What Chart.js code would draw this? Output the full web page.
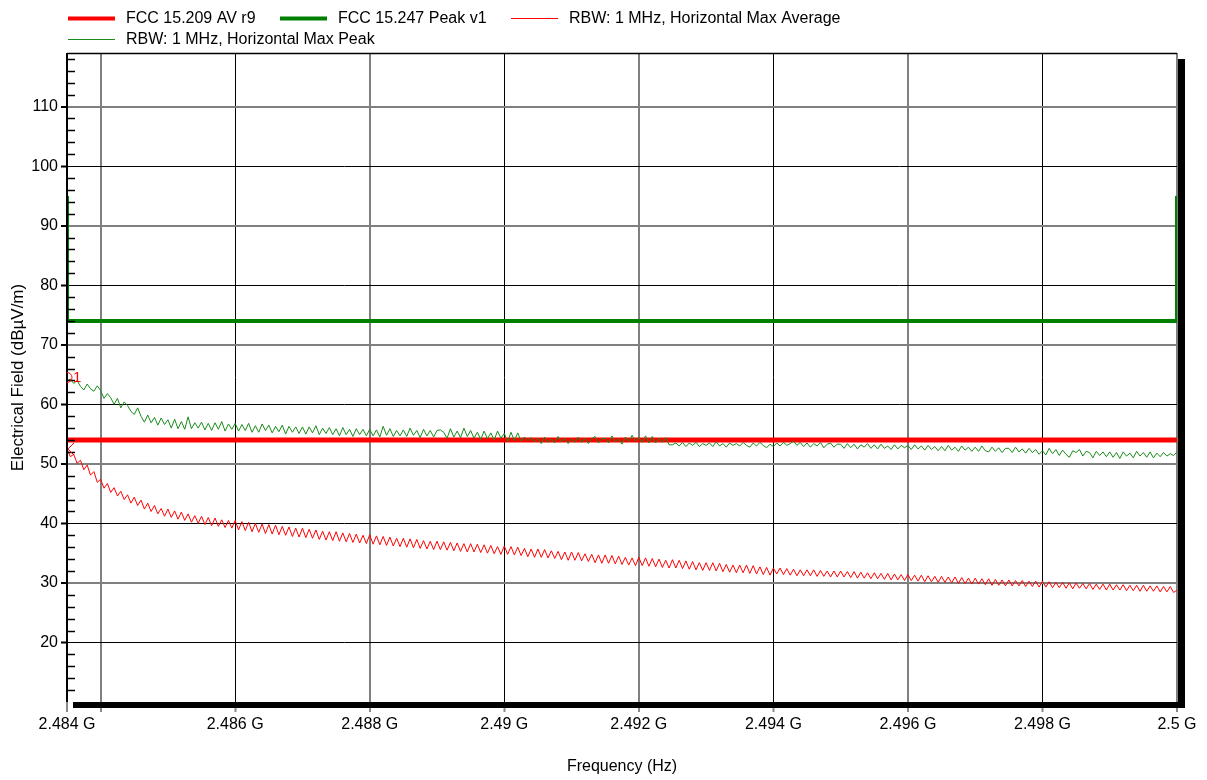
<!DOCTYPE html>
<html><head><meta charset="utf-8">
<script src="https://cdn.jsdelivr.net/npm/chart.js@4.4.1/dist/chart.umd.min.js"></script>
<style>html,body{margin:0;padding:0;background:#fff}#wrap{width:1207px;height:780px}</style>
</head><body><div id="wrap"><canvas id="c" width="1207" height="780"></canvas></div>
<script>
// Sweep: 2.4835 GHz .. 2.5 GHz, 50 kHz per trace point
const FREQ_START_GHZ = 2.4835;
const FREQ_STEP_GHZ = 0.00005;

// RBW: 1 MHz, Horizontal Max Average (dBµV/m)
const avgTrace = [
52.5,51.2,51.6,50.1,50.6,49.0,49.8,48.1,48.7,46.9,
47.4,45.9,46.7,45.2,46.0,44.6,45.4,44.0,44.8,43.4,
44.4,43.0,43.9,42.4,43.4,42.0,43.0,41.6,42.5,41.2,
42.4,41.0,42.1,40.7,41.9,40.5,41.6,40.2,41.3,40.0,
41.2,39.8,41.0,39.6,40.9,39.5,40.6,39.3,40.5,39.2,
40.5,38.9,40.3,38.8,40.2,38.6,40.0,38.5,39.9,38.3,
39.8,38.2,39.7,38.1,39.5,38.0,39.4,37.8,39.2,37.7,
39.2,37.6,39.0,37.5,38.9,37.3,38.7,37.2,38.6,37.1,
38.6,37.0,38.4,36.9,38.3,36.8,38.2,36.7,38.0,36.6,
38.1,36.5,37.9,36.4,37.8,36.3,37.7,36.2,37.5,36.1,
37.5,36.0,37.4,35.9,37.3,35.8,37.1,35.7,37.0,35.6,
37.0,35.6,36.9,35.5,36.8,35.4,36.7,35.3,36.6,35.2,
36.6,35.2,36.5,35.1,36.4,35.0,36.3,34.9,36.1,34.8,
36.2,34.8,36.1,34.7,36.0,34.6,35.8,34.4,35.7,34.3,
35.7,34.3,35.6,34.2,35.4,34.1,35.3,33.9,35.2,33.8,
35.2,33.8,35.1,33.7,34.9,33.6,34.8,33.4,34.7,33.3,
34.7,33.3,34.6,33.2,34.5,33.1,34.3,33.0,34.2,32.9,
34.3,32.9,34.2,32.8,34.1,32.7,34.0,32.6,33.8,32.5,
33.9,32.5,33.8,32.4,33.7,32.3,33.6,32.2,33.4,32.1,
33.4,32.1,33.4,32.0,33.3,31.9,33.1,31.8,33.0,31.7,
33.0,31.7,33.0,31.6,32.9,31.5,32.7,31.4,32.6,31.3,
32.5,31.5,32.5,31.4,32.4,31.3,32.3,31.2,32.2,31.2,
32.2,31.2,32.2,31.1,32.1,31.1,32.0,31.0,32.0,31.0,
32.0,31.0,31.9,30.9,31.9,30.8,31.8,30.8,31.7,30.7,
31.7,30.7,31.6,30.6,31.6,30.5,31.5,30.5,31.4,30.4,
31.4,30.4,31.3,30.3,31.3,30.2,31.2,30.2,31.1,30.1,
31.1,30.1,31.0,30.0,31.0,29.9,30.9,29.9,30.8,29.8,
30.8,29.8,30.7,29.7,30.7,29.6,30.6,29.6,30.5,29.5,
30.5,29.5,30.4,29.5,30.4,29.4,30.3,29.4,30.3,29.3,
30.3,29.3,30.2,29.2,30.1,29.2,30.1,29.1,30.0,29.0,
30.0,29.1,29.9,29.0,29.9,28.9,29.8,28.9,29.8,28.8,
29.8,28.8,29.7,28.8,29.7,28.7,29.6,28.7,29.6,28.6,
29.6,28.6,29.5,28.6,29.5,28.5,29.4,28.5,29.4,28.4,
28.8
];

// RBW: 1 MHz, Horizontal Max Peak (dBµV/m)
const peakTrace = [
64.0,64.2,63.5,64.0,63.0,62.4,63.4,62.6,62.2,63.1,
62.3,61.0,61.8,61.1,60.0,61.0,59.4,60.4,59.8,58.8,
58.3,59.4,58.0,57.0,58.2,56.9,57.8,56.5,57.7,56.6,
57.4,56.0,57.5,55.9,57.1,55.8,57.9,55.9,56.9,56.0,
57.0,55.7,56.8,55.6,56.9,55.8,57.1,55.5,56.7,55.8,
56.8,55.5,56.6,55.6,56.8,55.3,56.4,55.3,56.7,55.6,
56.5,55.2,56.3,55.4,56.5,55.0,56.3,55.3,56.2,55.1,
56.2,55.0,56.2,55.2,56.4,54.9,56.0,55.1,56.1,54.9,
55.9,54.7,56.1,54.9,55.8,54.6,55.9,54.9,55.8,54.7,
55.8,54.7,55.7,54.5,56.3,54.8,55.9,54.6,55.6,54.7,
55.7,54.6,56.0,54.8,55.6,54.4,55.8,54.7,55.6,54.5,
55.6,55.7,55.3,54.3,55.9,54.5,55.5,54.4,56.0,54.6,
55.6,54.3,55.3,54.1,55.5,54.2,55.2,54.0,55.5,54.3,
55.1,53.7,55.3,53.9,55.2,53.8,54.5,53.9,54.4,53.7,
54.3,53.4,54.5,53.6,54.2,53.5,54.6,53.7,54.3,53.4,
54.2,53.6,54.5,53.6,54.3,53.4,54.2,54.6,53.5,54.2,
54.3,53.5,54.7,53.7,54.2,53.3,54.5,53.7,54.8,53.8,
54.4,53.6,54.7,53.5,54.6,53.5,54.3,53.6,54.4,53.2,
53.2,53.5,53.0,53.6,52.9,53.5,53.1,53.6,52.9,53.4,
53.1,53.5,52.9,53.7,53.0,53.4,52.8,53.5,53.1,53.4,
53.0,53.6,53.1,52.8,53.5,53.0,53.6,53.1,52.7,53.3,
52.9,53.5,53.0,53.6,53.1,53.4,53.8,53.1,53.6,52.9,
53.5,52.8,53.4,53.0,53.6,52.7,53.3,53.5,52.8,53.3,
53.3,52.6,53.4,52.7,53.3,52.5,53.2,52.8,53.4,52.6,
53.2,52.5,53.3,52.6,53.0,52.4,53.2,52.5,53.1,52.7,
53.1,52.4,53.2,52.5,53.0,52.3,53.1,52.4,52.9,52.2,
52.9,52.2,53.1,52.3,52.8,52.1,53.0,52.3,52.8,52.1,
52.8,52.1,53.0,52.2,52.0,52.8,52.1,52.7,51.9,52.6,
52.6,51.9,52.8,52.0,52.5,51.8,52.6,51.9,52.4,51.6,
52.2,51.5,52.6,51.7,52.4,51.4,52.3,51.6,51.1,52.2,
51.9,52.4,51.3,52.1,51.9,51.0,52.1,51.4,52.0,51.2,
52.0,51.1,51.9,50.9,52.0,51.3,51.8,51.0,52.1,51.3,
51.9,51.1,52.0,51.0,51.8,51.2,51.9,51.3,51.7,51.4,
52.0
];

// Limit lines
const limitAvgFreq = [2.4835, 2.5];
const limitAvgLevel = [54, 54];
const limitPeakFreq = [2.4835, 2.4835, 2.5, 2.5];
const limitPeakLevel = [95, 74, 74, 95];

// Axis ticks
const xTickValues = [2.4835, 2.484, 2.486, 2.488, 2.49, 2.492, 2.494, 2.496, 2.498, 2.5];
const xTickLabels = ['2.484 G', '', '2.486 G', '2.488 G', '2.49 G', '2.492 G', '2.494 G', '2.496 G', '2.498 G', '2.5 G'];
const yTickValues = [20, 30, 40, 50, 60, 70, 80, 90, 100, 110];

const seriesNames = ['FCC 15.209 AV r9', 'FCC 15.247 Peak v1', 'RBW: 1 MHz, Horizontal Max Average', 'RBW: 1 MHz, Horizontal Max Peak'];

const FONT = 'Liberation Sans, Arial, sans-serif';

function toPoints(xs, ys) { return ys.map((y, i) => ({x: xs[i], y})); }
function sweep(vals) { return vals.map((y, i) => ({x: FREQ_START_GHZ + i * FREQ_STEP_GHZ, y})); }

const legendSlots = [{x: 68, y: 18}, {x: 280, y: 18}, {x: 511, y: 18}, {x: 68, y: 39}];

const decoPlugin = {
  id: 'deco',
  afterDatasetsDraw(chart) {
    const ctx = chart.ctx, a = chart.chartArea;
    const ys = chart.scales.y;
    ctx.save();
    ctx.strokeStyle = '#000'; ctx.lineWidth = 1.5;
    ctx.beginPath(); ctx.moveTo(a.left, a.top + 0.5); ctx.lineTo(a.right, a.top + 0.5); ctx.stroke();
    ctx.lineWidth = 2;
    ctx.beginPath(); ctx.moveTo(a.left, a.top); ctx.lineTo(a.left, a.bottom); ctx.stroke();
    ctx.lineWidth = 1.5;
    for (let v = 12; v <= 118; v += 2) {
      if (v % 10 === 0) continue;
      const py = Math.round(ys.getPixelForValue(v)) + 0.5;
      ctx.beginPath(); ctx.moveTo(a.left, py); ctx.lineTo(a.left + 8, py); ctx.stroke();
    }
    ctx.fillStyle = '#000';
    ctx.fillRect(a.left + 6, a.bottom, a.right + 8 - (a.left + 6), 6);
    ctx.fillRect(a.right + 1, a.top + 6, 7, a.bottom + 6 - (a.top + 6));
    ctx.fillStyle = '#ff0000'; ctx.strokeStyle = '#ff0000'; ctx.lineWidth = 1;
    ctx.font = '15px ' + FONT; ctx.textBaseline = 'middle'; ctx.textAlign = 'left';
    const p1y = ys.getPixelForValue(peakTrace[0]);
    ctx.fillText('1', a.left + 6, p1y - 3);
    ctx.beginPath(); ctx.arc(a.left, p1y - 3, 5, -Math.PI / 2, Math.PI / 2); ctx.stroke();
    const a1y = ys.getPixelForValue(avgTrace[0]);
    ctx.beginPath(); ctx.moveTo(a.left + 7, a1y - 6); ctx.lineTo(a.left + 1, a1y); ctx.lineTo(a.left + 7, a1y + 6); ctx.stroke();
    ctx.textBaseline = 'middle'; ctx.fillStyle = '#000'; ctx.font = '16px ' + FONT;
    chart.data.datasets.forEach((ds, i) => {
      const s = legendSlots[i];
      ctx.strokeStyle = ds.borderColor; ctx.lineWidth = ds.borderWidth > 2 ? 4 : 1;
      ctx.beginPath(); ctx.moveTo(s.x, s.y + 0.5); ctx.lineTo(s.x + 47, s.y + 0.5); ctx.stroke();
      ctx.fillText(ds.label, s.x + 58, s.y + 1);
    });
    ctx.restore();
  }
};

new Chart(document.getElementById('c'), {
  type: 'line',
  data: {
    datasets: [
      {label: seriesNames[0], data: toPoints(limitAvgFreq, limitAvgLevel), borderColor: '#ff0000', borderWidth: 5, pointRadius: 0, order: 3},
      {label: seriesNames[1], data: toPoints(limitPeakFreq, limitPeakLevel), borderColor: '#008000', borderWidth: 4, pointRadius: 0, order: 4},
      {label: seriesNames[2], data: sweep(avgTrace), borderColor: '#ff0000', borderWidth: 1, pointRadius: 0, order: 2},
      {label: seriesNames[3], data: sweep(peakTrace), borderColor: '#1a8c1a', borderWidth: 1, pointRadius: 0, order: 1}
    ]
  },
  options: {
    responsive: false, animation: false, devicePixelRatio: 1,
    layout: {padding: {left: 0, top: 53, right: 30, bottom: 0}},
    plugins: {legend: {display: false}, tooltip: {enabled: false}},
    elements: {line: {tension: 0}},
    scales: {
      x: {
        type: 'linear', min: 2.4835, max: 2.5,
        afterBuildTicks: s => { s.ticks = xTickValues.map(v => ({value: v})); },
        afterFit: s => { s.height = 78; },
        ticks: {
          autoSkip: false, maxRotation: 0, padding: 3, color: '#000',
          font: {family: FONT, size: 16},
          callback: (v, i) => xTickLabels[i]
        },
        grid: {
          color: c => c.index === 0 ? 'rgba(0,0,0,0)' : (Math.round((c.tick.value - 2.484) / 0.002) % 2 === 0 ? '#808080' : '#000'),
          lineWidth: c => (Math.round((c.tick.value - 2.484) / 0.002) % 2 === 0 ? 2 : 1),
          tickColor: '#8a8a8a', tickLength: 10, tickWidth: 2
        },
        border: {display: false},
        title: {display: true, text: 'Frequency (Hz)', color: '#000', font: {family: FONT, size: 16}, padding: {top: 0, bottom: 4}}
      },
      y: {
        min: 10, max: 119,
        afterBuildTicks: s => { s.ticks = yTickValues.map(v => ({value: v})); },
        afterFit: s => { s.width = 67; },
        ticks: {autoSkip: false, padding: 3, color: '#000', font: {family: FONT, size: 16}},
        grid: {
          color: c => (c.tick.value % 20 === 0 ? '#000' : '#808080'),
          lineWidth: c => (c.tick.value % 20 === 0 ? 1 : 2),
          tickColor: '#000', tickLength: 6, tickWidth: 2
        },
        border: {display: false},
        title: {display: true, text: 'Electrical Field (dBµV/m)', color: '#000', font: {family: FONT, size: 17}, padding: {top: 8, bottom: 0}}
      }
    }
  },
  plugins: [decoPlugin]
});
</script>
</body></html>
